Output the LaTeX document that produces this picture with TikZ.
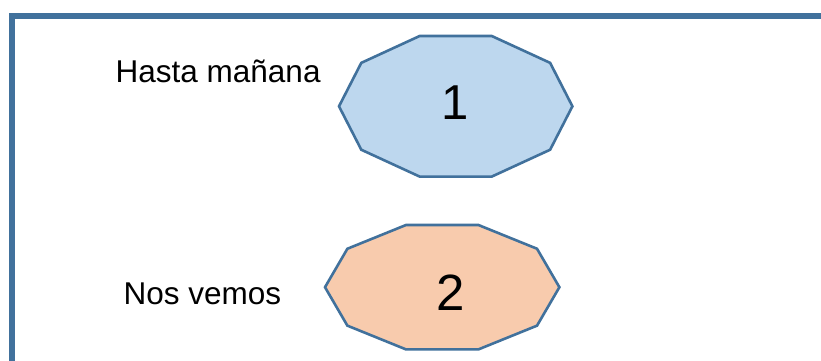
\documentclass[tikz,border=0pt]{standalone}
\usepackage{fontspec}
\setmainfont{Liberation Sans}
\definecolor{framec}{HTML}{41719C}
\definecolor{strokec}{HTML}{41719C}
\definecolor{bluef}{HTML}{BDD7EE}
\definecolor{orangef}{HTML}{F8CBAD}
\begin{document}
\begin{tikzpicture}[x=1pt,y=-1pt,
  deca/.style={draw=strokec,line width=2.6pt,line join=miter},
  label/.style={inner sep=0pt,anchor=base west,font=\fontsize{31.5}{36}\selectfont},
  numtxt/.style={inner sep=0pt,anchor=base}]
\useasboundingbox (0,0) rectangle (821,361);
\clip (0,0) rectangle (821,361);
\fill[white] (0,0) rectangle (821,361);
% frame
\draw[framec,line width=6pt,line join=miter] (12,380) -- (12,15.7) -- (840,15.7);
% decagon 1
\draw[deca,fill=bluef] plot[samples at={0,36,...,324}] ({455.7+116.7*cos(\x)},{106.3+73.9*sin(\x)}) -- cycle;
% decagon 2
\draw[deca,fill=orangef] plot[samples at={0,36,...,324}] ({442.2+117.2*cos(\x)},{287.2+65.4*sin(\x)}) -- cycle;
\node[numtxt,font=\fontsize{49}{56}\selectfont] (n1) at (455.5,119) {1};
\node[numtxt,font=\fontsize{51}{60}\selectfont] (n2) at (451,310) {2};
\node[label] (l1) at (115.5,82.7) {Hasta mañana};
\node[label] (l2) at (123.5,304.3) {Nos vemos};
\end{tikzpicture}
\end{document}
